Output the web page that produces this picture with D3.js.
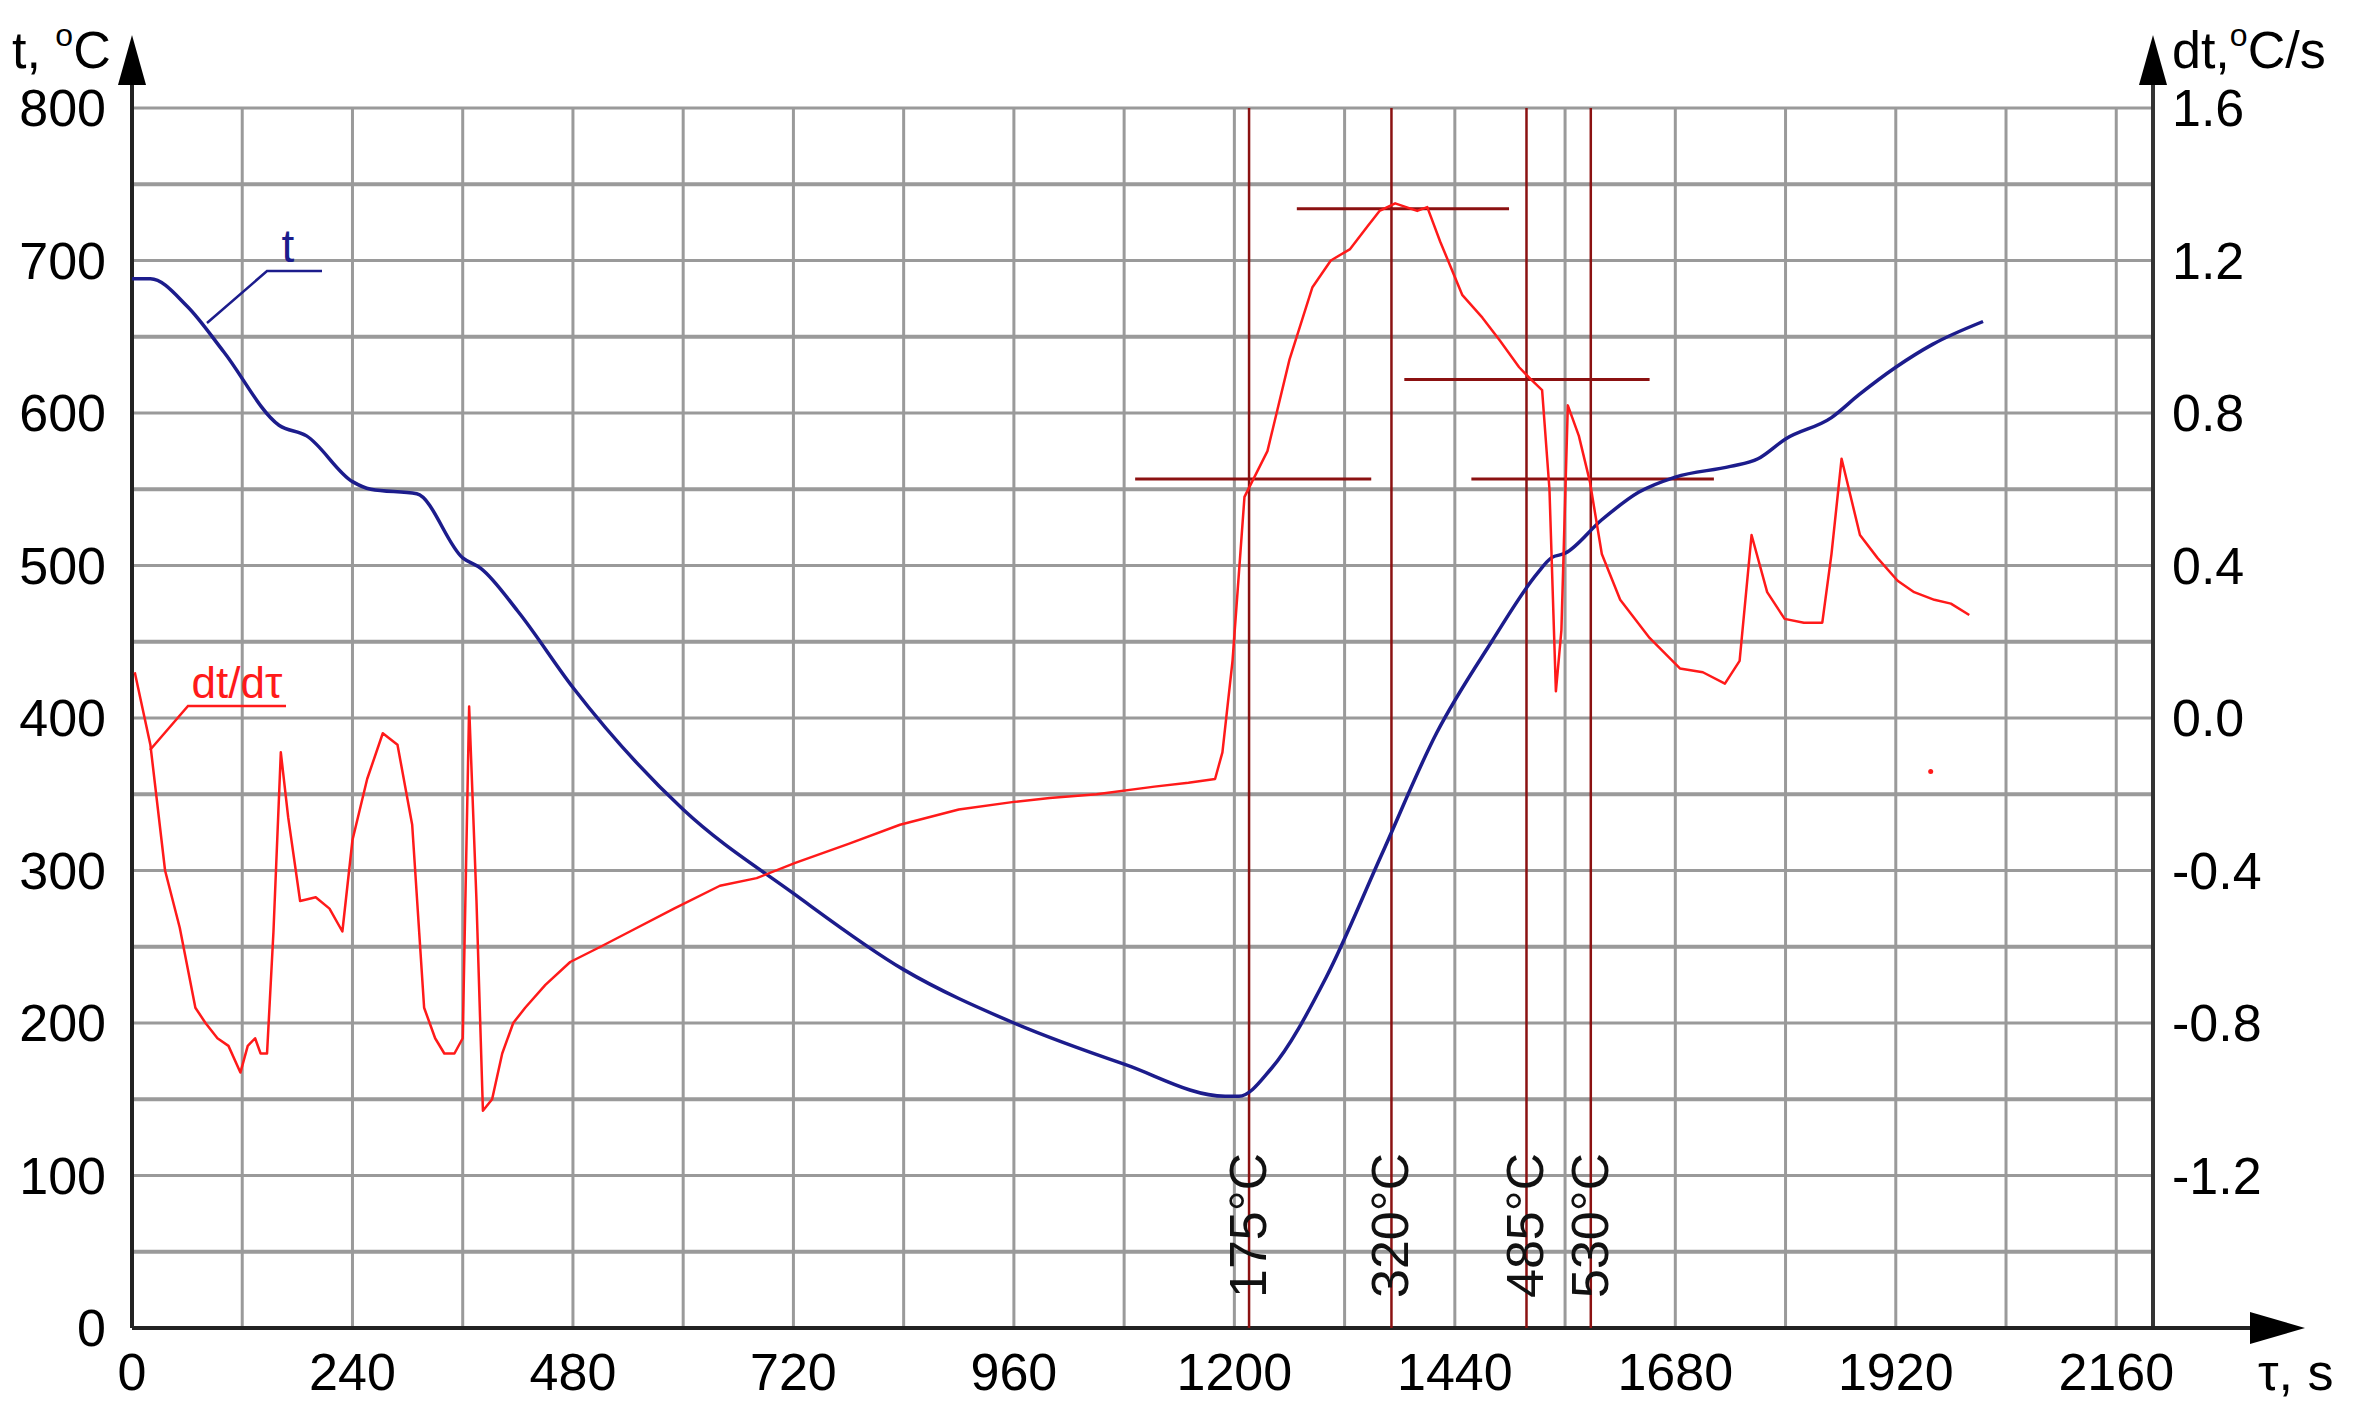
<html>
<head>
<script src="https://d3js.org/d3.v7.min.js"></script>
<style>body{margin:0;background:#fff;} text{font-family:"Liberation Sans Narrow","Liberation Sans",Arial,sans-serif;}</style>
</head>
<body>
<svg id="chart" width="2355" height="1417"></svg>
<script>
// temperature t, °C vs time, s
var tTime = [0,20,60,100,160,190,240,260,310,360,380,420,480,600,720,840,960,1080,1190,1205,1240,1300,1360,1420,1480,1530,1545,1560,1600,1640,1680,1740,1770,1800,1850,1880,1920,1960,2015];
var tVal  = [688,688,670,640,592,585,555,550,547,505,498,470,420,340,285,235,200,173,152,152,170,230,310,390,450,495,505,508,530,548,558,565,570,583,597,612,630,645,660];
// cooling/heating rate dt/dτ, °C/s
var rTime = [3,20,36,52,69,80,93,105,118,126,134,140,147,154,162,170,183,200,215,229,240,256,273,289,305,318,330,340,351,360,367,375,382,392,403,415,428,450,477,510,542,590,640,680,722,780,836,900,960,999,1050,1113,1150,1179,1187,1198,1211,1236,1260,1285,1305,1326,1345,1358,1375,1399,1410,1424,1448,1470,1489,1510,1522,1535,1543,1550,1556,1563,1575,1587,1600,1620,1652,1685,1710,1734,1750,1763,1780,1799,1820,1840,1850,1861,1881,1900,1922,1940,1962,1980,2000];
var rVal  = [0.12,-0.07,-0.40,-0.55,-0.76,-0.80,-0.84,-0.86,-0.93,-0.86,-0.84,-0.88,-0.88,-0.56,-0.09,-0.26,-0.48,-0.47,-0.50,-0.56,-0.32,-0.16,-0.04,-0.07,-0.28,-0.76,-0.84,-0.88,-0.88,-0.84,0.03,-0.48,-1.03,-1.00,-0.88,-0.80,-0.76,-0.70,-0.64,-0.60,-0.56,-0.50,-0.44,-0.42,-0.38,-0.33,-0.28,-0.24,-0.22,-0.21,-0.20,-0.18,-0.17,-0.16,-0.09,0.15,0.58,0.70,0.94,1.13,1.20,1.23,1.29,1.33,1.35,1.33,1.34,1.25,1.11,1.05,0.99,0.92,0.89,0.86,0.60,0.07,0.23,0.82,0.74,0.62,0.43,0.31,0.21,0.13,0.12,0.09,0.15,0.48,0.33,0.26,0.25,0.25,0.43,0.68,0.48,0.42,0.36,0.33,0.31,0.30,0.27];
// stray point
var dotTime = [1958], dotVal = [-0.14];
// critical points
var critTime = [1216,1371,1518,1588];
var critLabel = ["175°C","320°C","485°C","530°C"];
// tangent levels (dt/dτ) with start/end times
var hLevel = [1.336,0.888,0.627,0.627];
var hStart = [1268,1385,1092,1458];
var hEnd   = [1499,1652,1349,1722];
var xTicks = [0,240,480,720,960,1200,1440,1680,1920,2160];
var yTicks = [0,100,200,300,400,500,600,700,800];
var rTicks = [-1.2,-0.8,-0.4,0.0,0.4,0.8,1.2,1.6];

var svg = d3.select("#chart");
var L = 132, R = 2153, T = 108, B = 1328;
var x = d3.scaleLinear().domain([0,2200]).range([L,R]);
var y = d3.scaleLinear().domain([0,800]).range([B,T]);
var y2 = d3.scaleLinear().domain([-1.6,1.6]).range([B,T]);
var grey = "#9a9a9a", blue = "#1c1c8c", red = "#ff1a1a", dred = "#8b1111";

// grid
svg.append("g").selectAll("line").data(d3.range(120,2200,120)).enter().append("line")
  .attr("x1",d=>x(d)).attr("x2",d=>x(d)).attr("y1",T).attr("y2",B)
  .attr("stroke",grey).attr("stroke-width",3);
svg.append("g").selectAll("line").data(d3.range(50,801,50)).enter().append("line")
  .attr("x1",L).attr("x2",R).attr("y1",d=>y(d)).attr("y2",d=>y(d))
  .attr("stroke",grey).attr("stroke-width",d=>d%100==0?3:4);

// axes lines with arrows
svg.append("line").attr("x1",R).attr("x2",R).attr("y1",B).attr("y2",60).attr("stroke","#333").attr("stroke-width",4);
svg.append("line").attr("x1",L).attr("x2",L).attr("y1",B).attr("y2",60).attr("stroke","#222").attr("stroke-width",4);
svg.append("line").attr("x1",L).attr("x2",2260).attr("y1",B).attr("y2",B).attr("stroke","#222").attr("stroke-width",4);
svg.append("path").attr("d","M"+L+",35 L"+(L-14)+",85 L"+(L+14)+",85Z").attr("fill","#000");
svg.append("path").attr("d","M"+R+",35 L"+(R-14)+",85 L"+(R+14)+",85Z").attr("fill","#000");
svg.append("path").attr("d","M2305,"+B+" L2250,"+(B-16)+" L2250,"+(B+16)+"Z").attr("fill","#000");

// tick labels
svg.append("g").selectAll("text").data(yTicks).enter().append("text")
  .attr("x",106).attr("y",d=>y(d)+18).attr("text-anchor","end").attr("font-size",52).text(d=>d);
svg.append("g").selectAll("text").data(rTicks).enter().append("text")
  .attr("x",2172).attr("y",d=>y2(d)+18).attr("text-anchor","start").attr("font-size",52).text(d=>d.toFixed(1));
svg.append("g").selectAll("text").data(xTicks).enter().append("text")
  .attr("x",d=>x(d)).attr("y",1390).attr("text-anchor","middle").attr("font-size",52).text(d=>d);

// axis titles
var t1 = svg.append("text").attr("x",12).attr("y",68).attr("font-size",52);
t1.append("tspan").text("t, ");
t1.append("tspan").attr("font-size",32).attr("dy",-22).text("o");
t1.append("tspan").attr("dy",22).text("C");
var t2 = svg.append("text").attr("x",2172).attr("y",68).attr("font-size",52);
t2.append("tspan").text("dt,");
t2.append("tspan").attr("font-size",32).attr("dy",-22).text("o");
t2.append("tspan").attr("dy",22).text("C/s");
svg.append("text").attr("x",2258).attr("y",1390).attr("font-size",52).text("τ, s");

// critical vertical and horizontal lines
svg.append("g").selectAll("line").data(critTime).enter().append("line")
  .attr("x1",d=>x(d)).attr("x2",d=>x(d)).attr("y1",T).attr("y2",B)
  .attr("stroke",dred).attr("stroke-width",2.5);
svg.append("g").selectAll("line").data(hLevel).enter().append("line")
  .attr("x1",(d,i)=>x(hStart[i])).attr("x2",(d,i)=>x(hEnd[i])).attr("y1",d=>y2(d)).attr("y2",d=>y2(d))
  .attr("stroke",dred).attr("stroke-width",3);

// curves
var lineT = d3.line().x((d,i)=>x(tTime[i])).y(d=>y(d)).curve(d3.curveMonotoneX);
svg.append("path").attr("d",lineT(tVal)).attr("fill","none").attr("stroke",blue).attr("stroke-width",3.5);
var lineR = d3.line().x((d,i)=>x(rTime[i])).y(d=>y2(d));
svg.append("path").attr("d",lineR(rVal)).attr("fill","none").attr("stroke",red).attr("stroke-width",2.5).attr("stroke-linejoin","round");
svg.selectAll(".dot").data(dotVal).enter().append("circle")
  .attr("cx",(d,i)=>x(dotTime[i])).attr("cy",d=>y2(d)).attr("r",2.5).attr("fill",red);

// critical labels (rotated)
svg.append("g").selectAll("text").data(critLabel).enter().append("text")
  .attr("transform",(d,i)=>"translate("+(x(critTime[i])+17)+",1298) rotate(-90)")
  .attr("font-size",52).attr("fill","#111").text(d=>d);

// curve labels
svg.append("path").attr("d","M207,323 L267,271 L322,271").attr("fill","none").attr("stroke",blue).attr("stroke-width",2.5);
svg.append("text").attr("x",288).attr("y",262).attr("font-size",46).attr("fill",blue).attr("text-anchor","middle").text("t");
svg.append("path").attr("d","M150,750 L188,706 L286,706").attr("fill","none").attr("stroke",red).attr("stroke-width",2.5);
svg.append("text").attr("x",237).attr("y",698).attr("font-size",44).attr("fill",red).attr("text-anchor","middle").text("dt/dτ");
</script>
</body>
</html>
